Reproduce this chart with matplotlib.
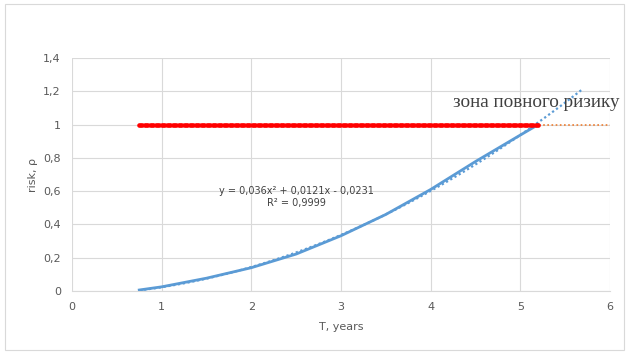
import numpy as np
import matplotlib.pyplot as plt
from matplotlib.patches import Rectangle

# risk curve
t_years = [0.75, 1.0, 1.5, 2.0, 2.5, 3.0, 3.5, 4.0, 4.5, 5.0, 5.2]
risk = [0.006, 0.025, 0.077, 0.140, 0.222, 0.332, 0.460, 0.610, 0.778, 0.937, 1.0]

# full-risk threshold
limit_t = [0.75, 5.2]
limit_val = [1.0, 1.0]

x_ticks = [0, 1, 2, 3, 4, 5, 6]
y_ticks = [0, 0.2, 0.4, 0.6, 0.8, 1.0, 1.2, 1.4]
y_labels = ["0", "0,2", "0,4", "0,6", "0,8", "1", "1,2", "1,4"]
x_label = "T, years"
y_label = "risk, ρ"
zone_text = "зона повного ризику"
eq_text = "y = 0,036x² + 0,0121x - 0,0231\nR² = 0,9999"

blue = "#5b9bd5"
grey = "#595959"

fig = plt.figure(figsize=(6.29, 3.54), dpi=100)
fig.patches.append(Rectangle((0.008, 0.012), 0.984, 0.976, transform=fig.transFigure,
                             fill=False, edgecolor="#d9d9d9", linewidth=0.8))
ax = fig.add_axes([72 / 629, 1 - 291 / 354, 538 / 629, 233 / 354])

# polynomial trendline, extended forward
coef = np.polyfit(t_years, risk, 2)
tt = np.linspace(t_years[0], 5.7, 100)
ax.plot(tt, np.polyval(coef, tt), color=blue, linestyle=(0, (1, 1.2)), linewidth=1.6, zorder=3)
ax.plot(t_years, risk, color=blue, linewidth=2.0, zorder=4)

# threshold series + its trendline
ax.plot([limit_t[0], 6.0], limit_val, color="#ed7d31", linestyle=(0, (1, 1.5)), linewidth=1.2, zorder=2)
ax.plot(limit_t, limit_val, color="red", linewidth=3.4, linestyle=(0, (0.6, 0.6)),
        dash_capstyle="round", zorder=5)
ax.plot(limit_t, limit_val, color="#ff4040", linewidth=2.2, alpha=0.6, zorder=4)

ax.set_xlim(0, 6)
ax.set_ylim(0, 1.4)
ax.set_xticks(x_ticks)
ax.set_yticks(y_ticks)
ax.set_yticklabels(y_labels)
ax.grid(True, color="#d9d9d9", linewidth=0.8)
ax.set_axisbelow(True)
for s in ["top", "right", "left"]:
    ax.spines[s].set_visible(False)
ax.spines["bottom"].set_color("#d9d9d9")
ax.tick_params(length=0, labelsize=8, colors=grey, pad=8)
ax.set_xlabel(x_label, fontsize=8, color=grey, labelpad=7)
ax.set_ylabel(y_label, fontsize=8, color=grey, labelpad=4)

ax.text(2.5, 0.565, eq_text, ha="center", va="center", fontsize=7, color="#404040",
        linespacing=1.35)
ax.text(4.25, 1.13, zone_text, ha="left", va="center", fontsize=13.8,
        family="Liberation Serif", color="#404040")

plt.savefig("out.png", dpi=100)
